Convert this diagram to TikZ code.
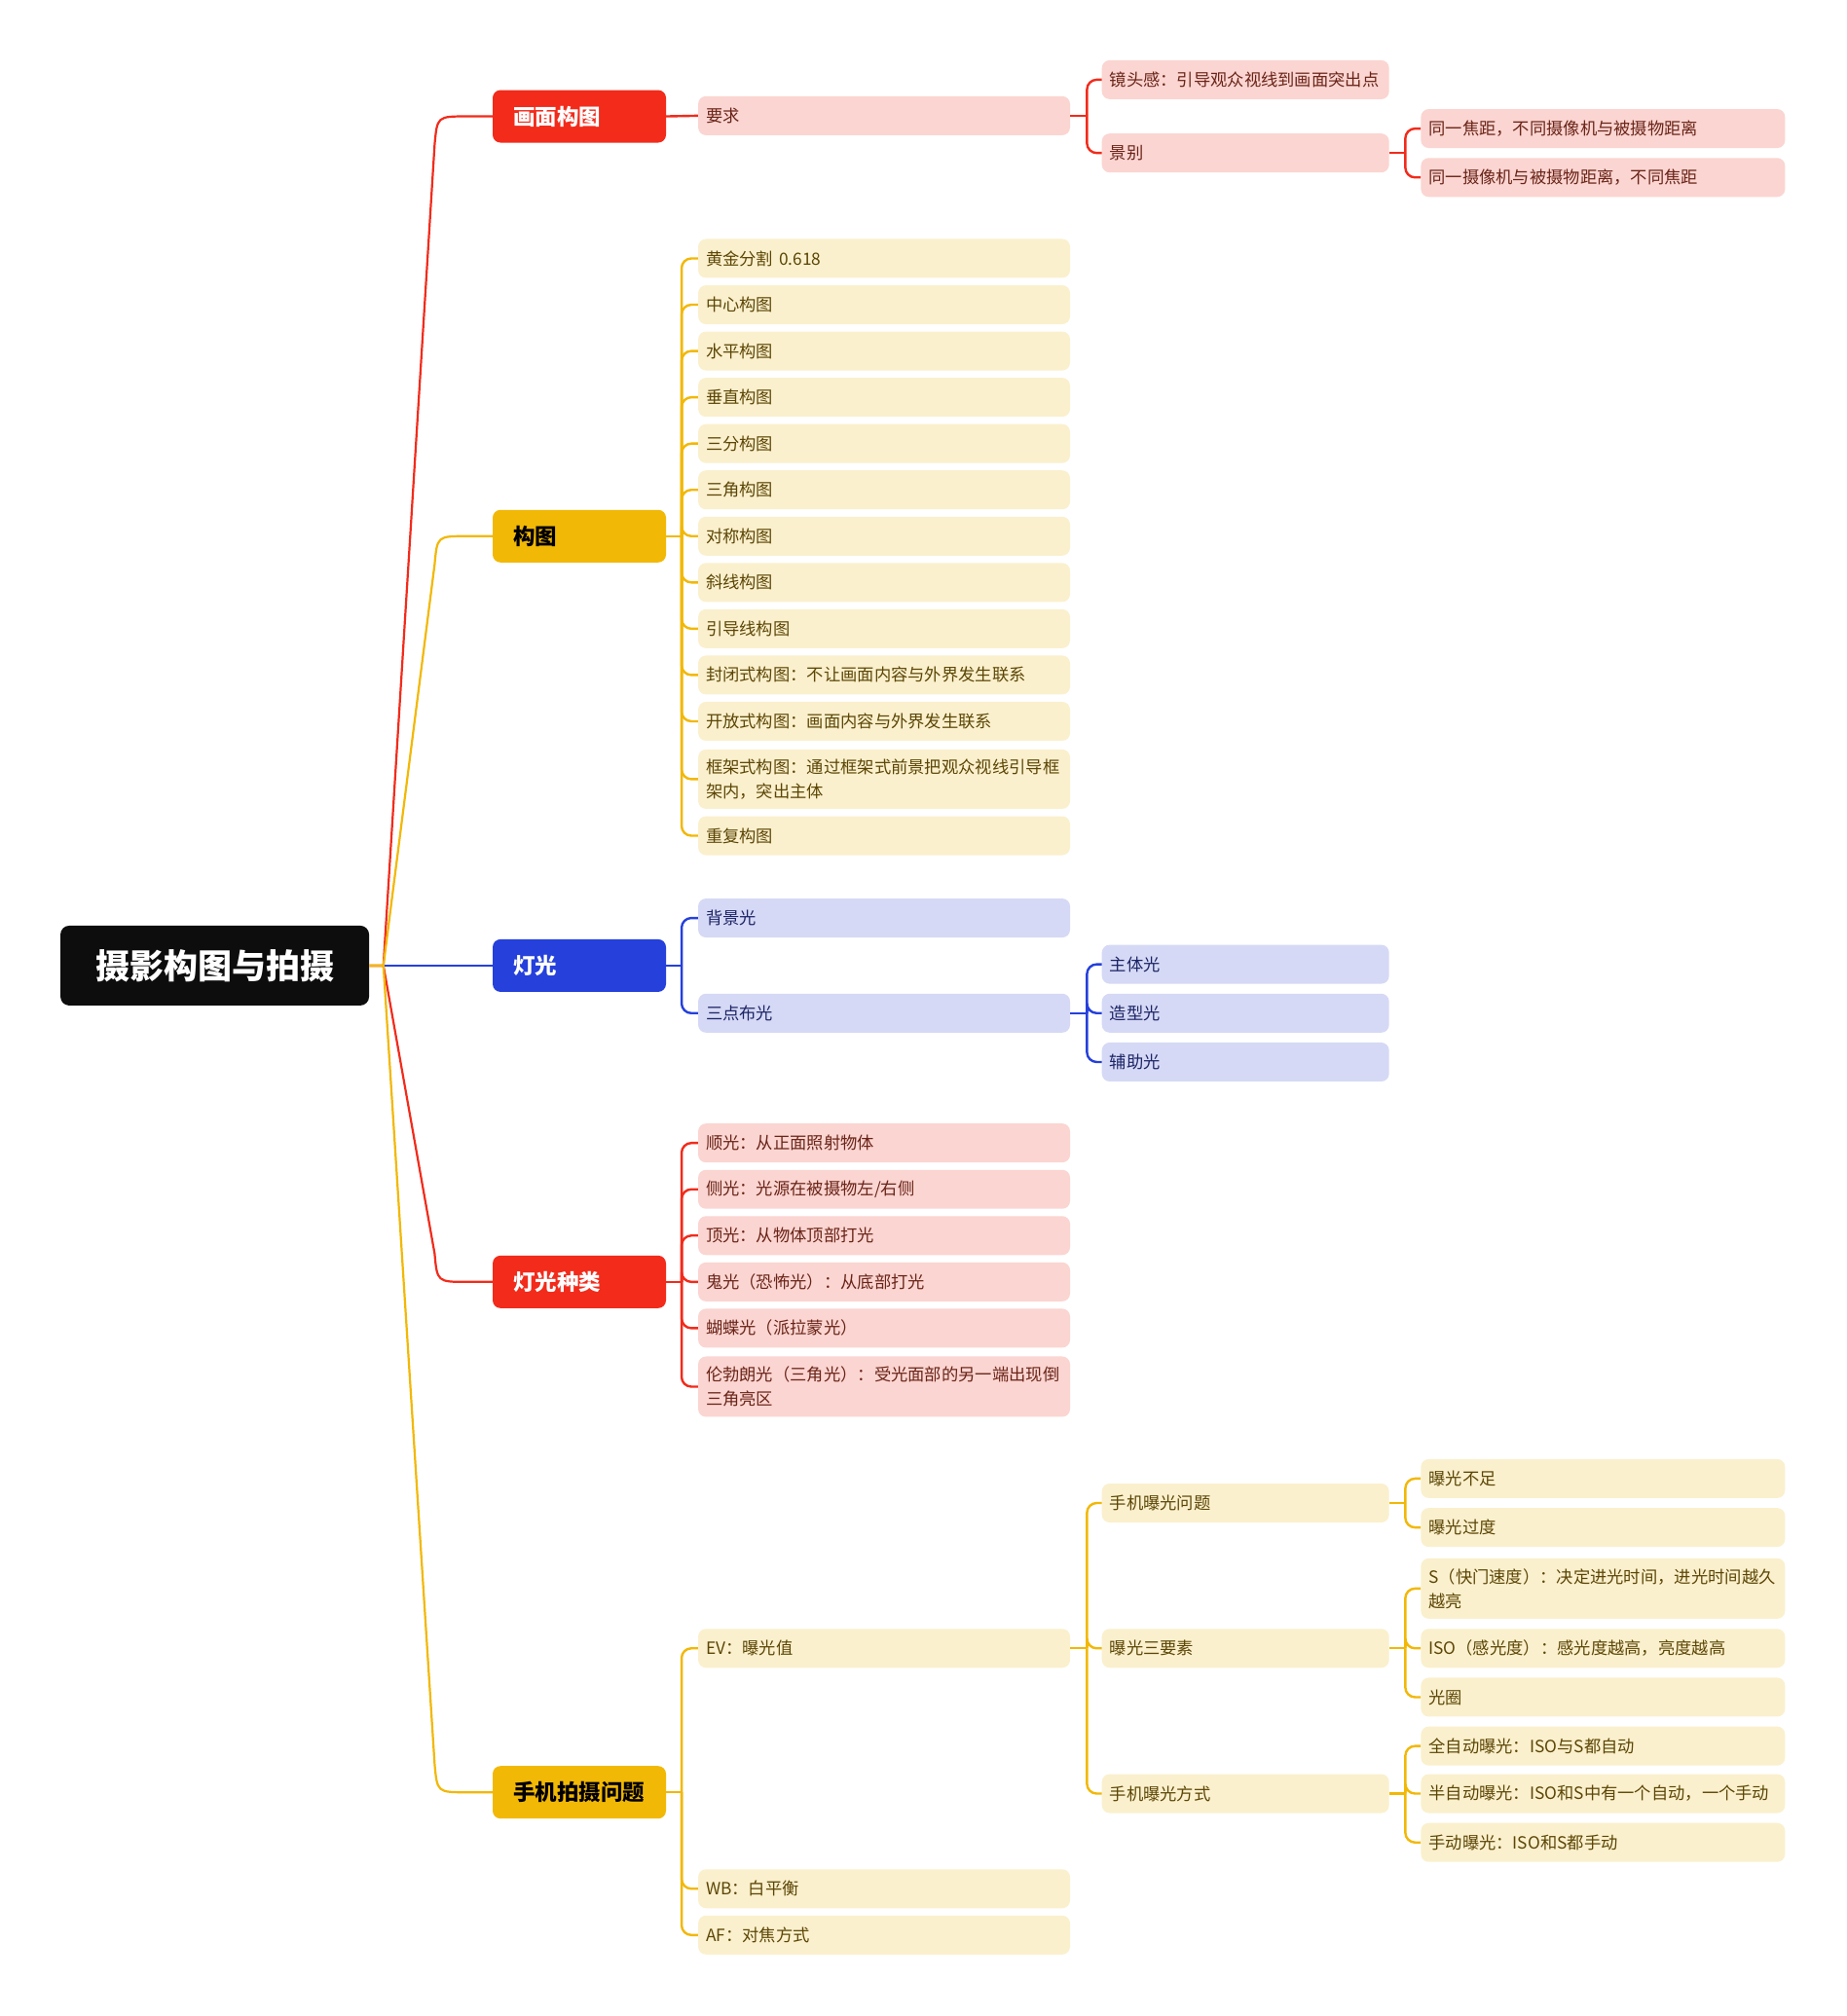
\documentclass[tikz,border=0pt]{standalone}
\usepackage{fontspec}
\setmainfont{Noto Sans CJK SC}
\usetikzlibrary{calc}
\definecolor{redc}{HTML}{F22B1B}
\definecolor{amberc}{HTML}{F2B806}
\definecolor{bluec}{HTML}{2540DB}
\definecolor{rootc}{HTML}{0D0D0D}
\definecolor{pinkf}{HTML}{FBD5D1}
\definecolor{creamf}{HTML}{FBF0CD}
\definecolor{lavf}{HTML}{D5D9F5}
\definecolor{pinkt}{HTML}{6A2418}
\definecolor{creamt}{HTML}{5C4606}
\definecolor{lavt}{HTML}{1C2466}
\begin{document}
\begin{tikzpicture}[x=1.321pt,y=-1.321pt,
  nodebox/.style={rounded corners=8pt, inner ysep=0pt, align=left, anchor=center},
  rootbox/.style={nodebox, fill=rootc, text=white, align=center, inner xsep=0pt, minimum width=317pt, minimum height=82pt, rounded corners=9pt, font=\fontsize{35}{40}\selectfont\bfseries},
  lvone/.style={nodebox, inner xsep=21pt, text width=136pt, minimum height=54pt, font=\fontsize{22.5}{27}\selectfont\bfseries},
  lvtwo/.style={nodebox, inner xsep=8pt, text width=366pt, minimum height=40pt, font=\fontsize{17.3}{25}\selectfont},
  lvthree/.style={nodebox, inner xsep=8pt, text width=279pt, minimum height=40pt, font=\fontsize{17.3}{25}\selectfont},
  lvfour/.style={nodebox, inner xsep=8pt, text width=358pt, minimum height=40pt, font=\fontsize{17.3}{25}\selectfont},
  pinkn/.style={fill=pinkf, text=pinkt},
  creamn/.style={fill=creamf, text=creamt},
  lavn/.style={fill=lavf, text=lavt},
  conn/.style={line width=2.4pt, rounded corners=10pt},
  mainconn/.style={line width=2.2pt}]
\useasboundingbox[fill=white] (0,0) rectangle (1436,1568);

% root
\node[rootbox] (root) at (167,751) {摄影构图与拍摄};

% level 1
\node[lvone, fill=redc, text=white] (a) at (450.5,90.5) {画面构图};
\node[lvone, fill=amberc, text=black] (b) at (450.5,417) {构图};
\node[lvone, fill=bluec, text=white] (c) at (450.5,751) {灯光};
\node[lvone, fill=redc, text=white] (d) at (450.5,997) {灯光种类};
\node[lvone, fill=amberc, text=black] (e) at (450.5,1394) {手机拍摄问题};

% level 2
\node[lvtwo, pinkn] (a1) at (687.5,90) {要求};

\node[lvtwo, creamn] (b1) at (687.5,201) {黄金分割 0.618};
\node[lvtwo, creamn] (b2) at (687.5,237) {中心构图};
\node[lvtwo, creamn] (b3) at (687.5,273) {水平构图};
\node[lvtwo, creamn] (b4) at (687.5,309) {垂直构图};
\node[lvtwo, creamn] (b5) at (687.5,345) {三分构图};
\node[lvtwo, creamn] (b6) at (687.5,381) {三角构图};
\node[lvtwo, creamn] (b7) at (687.5,417) {对称构图};
\node[lvtwo, creamn] (b8) at (687.5,453) {斜线构图};
\node[lvtwo, creamn] (b9) at (687.5,489) {引导线构图};
\node[lvtwo, creamn] (b10) at (687.5,525) {封闭式构图：不让画面内容与外界发生联系};
\node[lvtwo, creamn] (b11) at (687.5,561) {开放式构图：画面内容与外界发生联系};
\node[lvtwo, creamn, minimum height=61pt] (b12) at (687.5,606) {框架式构图：通过框架式前景把观众视线引导框\\架内，突出主体};
\node[lvtwo, creamn] (b13) at (687.5,650) {重复构图};

\node[lvtwo, lavn] (c1) at (687.5,714) {背景光};
\node[lvtwo, lavn] (c2) at (687.5,788) {三点布光};

\node[lvtwo, pinkn] (d1) at (687.5,889) {顺光：从正面照射物体};
\node[lvtwo, pinkn] (d2) at (687.5,925) {侧光：光源在被摄物左/右侧};
\node[lvtwo, pinkn] (d3) at (687.5,961) {顶光：从物体顶部打光};
\node[lvtwo, pinkn] (d4) at (687.5,997) {鬼光（恐怖光）：从底部打光};
\node[lvtwo, pinkn] (d5) at (687.5,1033) {蝴蝶光（派拉蒙光）};
\node[lvtwo, pinkn, minimum height=62pt] (d6) at (687.5,1078.5) {伦勃朗光（三角光）：受光面部的另一端出现倒\\三角亮区};

\node[lvtwo, creamn] (e1) at (687.5,1282) {EV：曝光值};
\node[lvtwo, creamn] (e2) at (687.5,1469) {WB：白平衡};
\node[lvtwo, creamn] (e3) at (687.5,1505) {AF：对焦方式};

% level 3
\node[lvthree, pinkn] (a11) at (968.5,62) {镜头感：引导观众视线到画面突出点};
\node[lvthree, pinkn] (a12) at (968.5,119) {景别};

\node[lvthree, lavn] (c21) at (968.5,750) {主体光};
\node[lvthree, lavn] (c22) at (968.5,788) {造型光};
\node[lvthree, lavn] (c23) at (968.5,826) {辅助光};

\node[lvthree, creamn] (e11) at (968.5,1169) {手机曝光问题};
\node[lvthree, creamn] (e12) at (968.5,1282) {曝光三要素};
\node[lvthree, creamn] (e13) at (968.5,1395) {手机曝光方式};

% level 4
\node[lvfour, pinkn] (a121) at (1246.5,100) {同一焦距，不同摄像机与被摄物距离};
\node[lvfour, pinkn] (a122) at (1246.5,138) {同一摄像机与被摄物距离，不同焦距};

\node[lvfour, creamn] (e111) at (1246.5,1150) {曝光不足};
\node[lvfour, creamn] (e112) at (1246.5,1188) {曝光过度};
\node[lvfour, creamn, minimum height=62pt] (e121) at (1246.5,1235.5) {S（快门速度）：决定进光时间，进光时间越久\\越亮};
\node[lvfour, creamn] (e122) at (1246.5,1282) {ISO（感光度）：感光度越高，亮度越高};
\node[lvfour, creamn] (e123) at (1246.5,1320) {光圈};
\node[lvfour, creamn] (e131) at (1246.5,1358) {全自动曝光：ISO与S都自动};
\node[lvfour, creamn] (e132) at (1246.5,1395) {半自动曝光：ISO和S中有一个自动，一个手动};
\node[lvfour, creamn] (e133) at (1246.5,1433) {手动曝光：ISO和S都手动};

% junction coordinates
\coordinate (rj) at ($(root.east)+(11,0)$);
\foreach \p in {a,b,c,d,e} {\coordinate (\p j) at ($(\p.east)+(12,0)$);}
\foreach \p in {a1,c2,e1} {\coordinate (\p j) at ($(\p.east)+(13,0)$);}
\foreach \p in {a12,e11,e12,e13} {\coordinate (\p j) at ($(\p.east)+(12.5,0)$);}

% root connectors
\draw[mainconn, redc] (root.east) -- (rj) -- ($(a.west)+(-45,22)$) .. controls ($(a.west)+(-43,0)$) .. ($(a.west)+(-20,0)$) -- (a.west);
\draw[mainconn, redc] (root.east) -- (rj) -- ($(d.west)+(-45,-22)$) .. controls ($(d.west)+(-43,0)$) .. ($(d.west)+(-20,0)$) -- (d.west);
\draw[mainconn, bluec] (root.east) -- (c.west);
\draw[mainconn, amberc] (root.east) -- (rj) -- ($(b.west)+(-45,22)$) .. controls ($(b.west)+(-43,0)$) .. ($(b.west)+(-20,0)$) -- (b.west);
\draw[mainconn, amberc] (root.east) -- (rj) -- ($(e.west)+(-45,-22)$) .. controls ($(e.west)+(-43,0)$) .. ($(e.west)+(-20,0)$) -- (e.west);
\draw[line width=2.6pt, amberc] (root.east) -- (rj);

% level 1 -> level 2
\draw[conn, redc] (a.east) -- (a1.west);
\draw[conn, amberc] (b.east) -- (bj);
\foreach \n in {b1,b2,b3,b4,b5,b6,b7,b8,b9,b10,b11,b12,b13} {\draw[conn, amberc] (bj) |- (\n.west);}
\draw[conn, bluec] (c.east) -- (cj);
\foreach \n in {c1,c2} {\draw[conn, bluec] (cj) |- (\n.west);}
\draw[conn, redc] (d.east) -- (dj);
\foreach \n in {d1,d2,d3,d4,d5,d6} {\draw[conn, redc] (dj) |- (\n.west);}
\draw[conn, amberc] (e.east) -- (ej);
\foreach \n in {e1,e2,e3} {\draw[conn, amberc] (ej) |- (\n.west);}

% level 2 -> level 3
\draw[conn, redc] (a1.east) -- (a1j);
\foreach \n in {a11,a12} {\draw[conn, redc] (a1j) |- (\n.west);}
\draw[conn, bluec] (c2.east) -- (c2j);
\foreach \n in {c21,c22,c23} {\draw[conn, bluec] (c2j) |- (\n.west);}
\draw[conn, amberc] (e1.east) -- (e1j);
\foreach \n in {e11,e12,e13} {\draw[conn, amberc] (e1j) |- (\n.west);}

% level 3 -> level 4
\draw[conn, redc] (a12.east) -- (a12j);
\foreach \n in {a121,a122} {\draw[conn, redc] (a12j) |- (\n.west);}
\draw[conn, amberc] (e11.east) -- (e11j);
\foreach \n in {e111,e112} {\draw[conn, amberc] (e11j) |- (\n.west);}
\draw[conn, amberc] (e12.east) -- (e12j);
\foreach \n in {e121,e122,e123} {\draw[conn, amberc] (e12j) |- (\n.west);}
\draw[conn, amberc] (e13.east) -- (e13j);
\foreach \n in {e131,e132,e133} {\draw[conn, amberc] (e13j) |- (\n.west);}
\end{tikzpicture}
\end{document}
